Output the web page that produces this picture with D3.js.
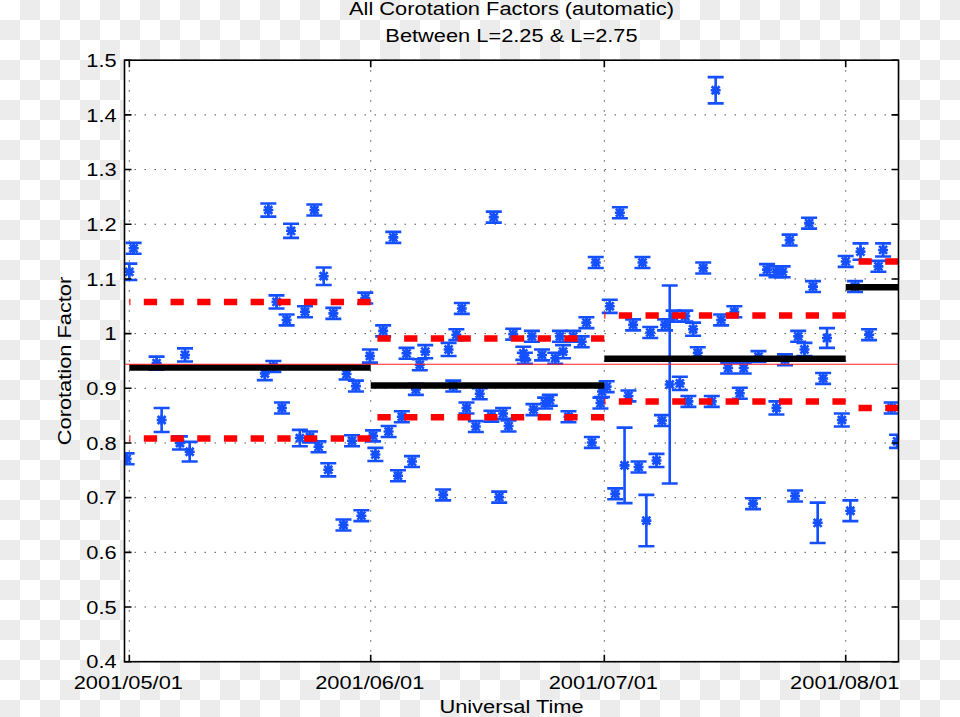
<!DOCTYPE html>
<html>
<head>
<meta charset="utf-8">
<script src="https://cdn.jsdelivr.net/npm/d3@7"></script>
<style>
  body { margin: 0; background: #fff; }
  text { font-family: "Liberation Sans", Arial, Helvetica, sans-serif; fill: #000; }
</style>
</head>
<body>
<div class="main"></div>
<script>
// time of each measurement, in days after 2001/05/01 00:00 UT
let pointDays = [
    -0.35, 0.0, 0.55, 3.5, 4.15, 7.15, 6.5, 7.75, 17.4, 17.85,
    18.5, 18.9, 19.6, 20.2, 20.77, 21.9, 22.56, 23.2, 23.76, 24.3,
    24.96, 25.55, 26.2, 27.5, 27.9, 28.6, 29.1, 29.8, 30.3, 30.9,
    31.3, 31.6, 32.6, 33.3, 33.9, 34.5, 35.0, 35.6, 36.3, 36.8,
    37.3, 38.0, 40.3, 41.0, 41.6, 42.0, 42.7, 43.3, 44.5, 45.0,
    46.5, 46.8, 47.5, 48.0, 48.7, 49.3, 50.6, 50.8, 51.7, 51.9,
    53.0, 53.4, 54.0, 54.7, 55.3, 55.7, 56.4, 57.0, 58.1, 58.7,
    59.4, 59.9, 60.5, 60.7,
    61.3, 61.7, 62.4, 63.0, 63.6, 64.1, 64.7, 65.4, 65.9, 66.4,
    66.9, 67.7, 68.4, 68.8, 69.4, 69.9, 70.7, 71.4, 71.8, 72.4,
    73.0, 73.7, 74.8, 75.3, 76.0, 76.9, 77.7, 78.4, 78.9, 80.1,
    80.8, 81.9, 83.1, 83.1, 83.9, 84.2, 84.8, 85.5, 85.9, 86.7,
    87.3, 87.8, 88.4, 89.1, 89.6, 91.5,
    92.0, 92.6, 93.2, 93.9, 95.0, 96.2, 96.8, 97.9, 98.6
];

let pointValues = [
    0.771, 1.113, 1.156, 0.946, 0.842, 0.961, 0.800, 0.784, 0.927, 1.226,
    0.940, 1.058, 0.864, 1.025, 1.188, 0.809, 1.040, 0.811, 1.226, 0.793,
    1.105, 0.751, 1.037, 0.650, 0.926, 0.804, 0.904, 0.667, 1.065, 0.959,
    0.813, 0.779, 1.005, 0.821, 1.176, 0.740, 0.848, 0.964, 0.766, 0.898,
    0.943, 0.967, 0.705, 0.971, 0.904, 0.998, 1.046, 0.864, 0.830, 0.890,
    0.849, 1.213, 0.701, 0.854, 0.831, 0.999, 0.964, 0.955, 0.995, 0.861,
    0.961, 0.873, 0.878, 0.955, 0.995, 0.967, 0.848, 0.995, 0.985, 1.020,
    0.801, 1.130, 0.873, 0.894,
    0.903, 1.050, 0.707, 1.221, 0.759, 0.886, 1.016, 0.756, 1.130, 0.658,
    1.002, 0.768, 0.841, 1.016, 0.907, 1.032, 0.909, 1.032, 0.876, 1.008,
    0.965, 1.120, 0.876, 1.445, 1.025, 0.937, 1.040, 0.891, 0.937, 0.689,
    0.958, 1.117, 1.113, 0.864, 1.113, 0.952, 1.171, 0.703, 0.995, 0.971,
    1.202, 1.086, 0.654, 0.918, 0.992, 0.842,
    1.132, 0.676, 1.086, 1.150, 0.998, 1.123, 1.153, 0.864, 0.803
];

let pointErrors = [
    0.010, 0.015, 0.010, 0.012, 0.022, 0.012, 0.012, 0.018, 0.012, 0.012,
    0.010, 0.012, 0.010, 0.010, 0.013, 0.015, 0.010, 0.010, 0.010, 0.010,
    0.016, 0.012, 0.010, 0.010, 0.010, 0.010, 0.010, 0.010, 0.010, 0.012,
    0.010, 0.012, 0.010, 0.010, 0.010, 0.010, 0.010, 0.010, 0.010, 0.010,
    0.010, 0.012, 0.010, 0.012, 0.010, 0.010, 0.010, 0.010, 0.010, 0.010,
    0.010, 0.010, 0.010, 0.010, 0.010, 0.010, 0.012, 0.010, 0.010, 0.010,
    0.010, 0.010, 0.010, 0.010, 0.010, 0.012, 0.010, 0.010, 0.010, 0.010,
    0.010, 0.010, 0.010, 0.010,
    0.010, 0.012, 0.010, 0.010, 0.069, 0.010, 0.010, 0.010, 0.010, 0.047,
    0.010, 0.012, 0.010, 0.010, 0.181, 0.010, 0.012, 0.010, 0.010, 0.012,
    0.010, 0.010, 0.010, 0.024, 0.010, 0.010, 0.010, 0.010, 0.010, 0.010,
    0.010, 0.010, 0.010, 0.012, 0.010, 0.010, 0.010, 0.010, 0.010, 0.012,
    0.010, 0.010, 0.037, 0.010, 0.018, 0.012,
    0.010, 0.019, 0.010, 0.015, 0.010, 0.010, 0.012, 0.010, 0.012
];

// monthly mean and mean +/- std
let monthStarts = ["2001-05-01", "2001-06-01", "2001-07-01", "2001-08-01"];
let monthMeans = [0.938, 0.905, 0.954, 1.085];
let monthUpper = [1.058, 0.991, 1.033, 1.132];
let monthLower = [0.808, 0.847, 0.876, 0.864];
let overallMean = 0.944;

let yTicks = [0.4, 0.5, 0.6, 0.7, 0.8, 0.9, 1, 1.1, 1.2, 1.3, 1.4, 1.5];
let xTickLabels = ["2001/05/01", "2001/06/01", "2001/07/01", "2001/08/01"];

let width = 960;
let height = 717;
let plotLeft = 124.5, plotRight = 898.5, plotTop = 60.2, plotBottom = 661.7;
let fontSize = 18.5;
let stretch = 1.18;   // the original text is a bit wider than tall
let blue = "#1450ff";

let t0 = Date.UTC(2001, 4, 1);
function dayToDate(d) {
    return new Date(t0 + d * 864e5);
}

let x = d3.scaleUtc()
    .domain([dayToDate(-0.62), dayToDate(98.78)])
    .range([plotLeft, plotRight]);
let y = d3.scaleLinear()
    .domain([0.4, 1.5])
    .range([plotBottom, plotTop]);

let svg = d3.select(".main").append("svg")
    .attr("width", width)
    .attr("height", height)
    .style("display", "block");

// checkerboard behind the figure
let defs = svg.append("defs");
let checker = defs.append("pattern")
    .attr("id", "checker")
    .attr("width", 40).attr("height", 40)
    .attr("patternUnits", "userSpaceOnUse");
checker.append("rect").attr("width", 40).attr("height", 40).attr("fill", "#fff");
checker.append("rect").attr("x", 20).attr("y", 0).attr("width", 20).attr("height", 20).attr("fill", "#ececec");
checker.append("rect").attr("x", 0).attr("y", 20).attr("width", 20).attr("height", 20).attr("fill", "#ececec");

defs.append("clipPath").attr("id", "plotclip")
    .append("rect")
    .attr("x", plotLeft).attr("y", plotTop)
    .attr("width", plotRight - plotLeft).attr("height", plotBottom - plotTop);

svg.append("rect")
    .attr("width", width).attr("height", height)
    .attr("fill", "url(#checker)");

svg.append("rect")
    .attr("x", plotLeft).attr("y", plotTop)
    .attr("width", plotRight - plotLeft).attr("height", plotBottom - plotTop)
    .attr("fill", "#fff");

// dotted grid
let xTickDates = monthStarts.map(s => new Date(s + "T00:00:00Z"));
let grid = svg.append("g")
    .attr("stroke", "#555")
    .attr("stroke-width", 1)
    .attr("stroke-dasharray", "1.5,8.5");

grid.selectAll(".hgrid")
    .data(yTicks)
    .enter().append("line")
    .attr("class", "hgrid")
    .attr("x1", plotLeft).attr("x2", plotRight)
    .attr("y1", d => y(d)).attr("y2", d => y(d));

grid.selectAll(".vgrid")
    .data(xTickDates)
    .enter().append("line")
    .attr("class", "vgrid")
    .attr("x1", d => x(d)).attr("x2", d => x(d))
    .attr("y1", plotTop).attr("y2", plotBottom);

let plot = svg.append("g").attr("clip-path", "url(#plotclip)");

// data points with error bars and asterisk markers
let points = pointDays.map((d, i) => ({ day: d, value: pointValues[i], err: pointErrors[i] }));
let capHalf = 8;
let starHalf = 5;

let marks = plot.selectAll(".point")
    .data(points)
    .enter().append("g")
    .attr("class", "point")
    .attr("stroke", blue)
    .attr("stroke-width", 2.6)
    .attr("fill", "none");

marks.append("path")
    .attr("d", function (d) {
        let px = x(dayToDate(d.day));
        let y1 = y(d.value + d.err);
        let y2 = y(d.value - d.err);
        return `M${px},${y1}V${y2}` +
            `M${px - capHalf},${y1}H${px + capHalf}` +
            `M${px - capHalf},${y2}H${px + capHalf}`;
    });

marks.append("path")
    .attr("d", function (d) {
        let px = x(dayToDate(d.day));
        let py = y(d.value);
        let s = starHalf;
        let k = s * 0.8;
        return `M${px - s},${py}H${px + s}` +
            `M${px},${py - s}V${py + s}` +
            `M${px - k},${py - k}L${px + k},${py + k}` +
            `M${px - k},${py + k}L${px + k},${py - k}`;
    });

// monthly segments
let segments = monthStarts.map(function (s, i) {
    let start = new Date(s + "T00:00:00Z");
    let end = i < monthStarts.length - 1 ? new Date(monthStarts[i + 1] + "T00:00:00Z") : x.domain()[1];
    return { start: start, end: end, mean: monthMeans[i], upper: monthUpper[i], lower: monthLower[i] };
});

plot.selectAll(".mean-line")
    .data(segments)
    .enter().append("line")
    .attr("class", "mean-line")
    .attr("x1", d => x(d.start)).attr("x2", d => x(d.end))
    .attr("y1", d => y(d.mean)).attr("y2", d => y(d.mean))
    .attr("stroke", "#000")
    .attr("stroke-width", 6.5);

// dashes are anchored on the right end, so draw right to left
["upper", "lower"].forEach(function (key) {
    plot.selectAll(".band-" + key)
        .data(segments)
        .enter().append("path")
        .attr("class", "band-" + key)
        .attr("d", d => `M${x(d.end)},${y(d[key])}H${x(d.start)}`)
        .attr("stroke", "#ff0000")
        .attr("stroke-width", 6.5)
        .attr("stroke-dasharray", "13.3,13.4");
});

plot.append("line")
    .attr("x1", plotLeft).attr("x2", plotRight)
    .attr("y1", y(overallMean)).attr("y2", y(overallMean))
    .attr("stroke", "#ff2020")
    .attr("stroke-width", 1.2);

// frame and inward ticks
let tickLen = 7;
let frame = svg.append("g").attr("stroke", "#000").attr("stroke-width", 1.6).attr("fill", "none");
frame.append("rect")
    .attr("x", plotLeft).attr("y", plotTop)
    .attr("width", plotRight - plotLeft).attr("height", plotBottom - plotTop);

frame.selectAll(".ytick")
    .data(yTicks)
    .enter().append("path")
    .attr("class", "ytick")
    .attr("d", d => `M${plotLeft},${y(d)}h${tickLen}M${plotRight},${y(d)}h${-tickLen}`);

frame.selectAll(".xtick")
    .data(xTickDates)
    .enter().append("path")
    .attr("class", "xtick")
    .attr("d", d => `M${x(d)},${plotBottom}v${-tickLen}M${x(d)},${plotTop}v${tickLen}`);

function addText(str, tx, ty, anchor, rotate) {
    let tr = `translate(${tx},${ty})` + (rotate ? ` rotate(${rotate})` : "") + ` scale(${stretch},1)`;
    return svg.append("text")
        .attr("transform", tr)
        .attr("text-anchor", anchor)
        .attr("font-size", fontSize)
        .text(str);
}

yTicks.forEach(function (v) {
    let label = v === 1 ? "1" : d3.format(".1f")(v);
    addText(label, 116.7, y(v) + 6.7, "end");
});

xTickDates.forEach(function (d, i) {
    addText(xTickLabels[i], x(d) - 1, 689.3, "middle");
});

addText("All Corotation Factors (automatic)", 511.5, 15.3, "middle");
addText("Between L=2.25 & L=2.75", 511.5, 41.7, "middle");
addText("Universal Time", 511.5, 712.5, "middle");
addText("Corotation Factor", 71, 361, "middle", -90);
</script>
</body>
</html>
